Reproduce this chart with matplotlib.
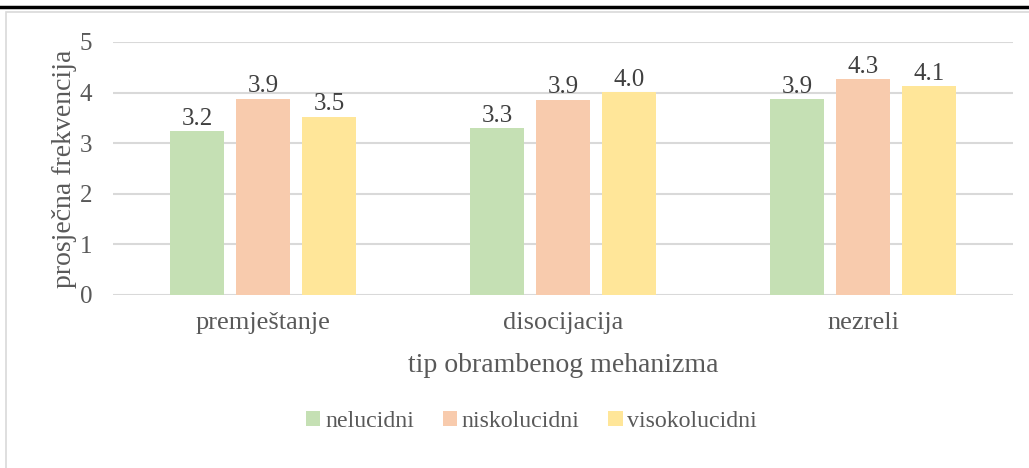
import numpy as np
import matplotlib.pyplot as plt
from matplotlib.lines import Line2D
from matplotlib.patches import Rectangle

# Données du graphique
kategorije = ["premještanje", "disocijacija", "nezreli"]
serije = ["nelucidni", "niskolucidni", "visokolucidni"]
nelucidni = [3.24, 3.30, 3.87]
niskolucidni = [3.88, 3.86, 4.26]
visokolucidni = [3.52, 4.01, 4.13]
boje = ["#C5E0B4", "#F8CBAD", "#FFE699"]

plt.rcParams["font.family"] = ["Liberation Serif", "DejaVu Serif"]
siva = "#595959"

fig = plt.figure(figsize=(10.29, 4.68), dpi=100)
ax = fig.add_axes([0.1098, 0.3697, 0.8747, 0.5406])

x = np.arange(len(kategorije))
sirina = 0.177
korak = 0.22
vrijednosti = [nelucidni, niskolucidni, visokolucidni]
for i, (ime, vals) in enumerate(zip(serije, vrijednosti)):
    bars = ax.bar(x + (i - 1) * korak, vals, sirina, color=boje[i], label=ime, zorder=3)
    ax.bar_label(bars, fmt="%.1f", padding=1, fontsize=18, color="#404040")

ax.set_xlim(-0.5, 2.5)
ax.set_ylim(0, 5)
ax.set_yticks(range(0, 6))
ax.set_xticks(x)
ax.set_xticklabels(kategorije)
ax.tick_params(axis="both", length=0, labelsize=18, colors=siva)
ax.tick_params(axis="x", labelsize=19, pad=12)
ax.tick_params(axis="y", pad=15)
ax.grid(axis="y", color="#D9D9D9", linewidth=1.5, zorder=0)
for s in ax.spines.values():
    s.set_visible(False)

ax.set_ylabel("prosječna frekvencija", fontsize=20, color=siva, labelpad=2)
ax.set_xlabel("tip obrambenog mehanizma", fontsize=20, color=siva, labelpad=14)

ax.legend(loc="center", bbox_to_anchor=(0.465, -0.5), ncol=3, frameon=False,
          fontsize=17.2, labelcolor=siva, handlelength=0.6, handleheight=0.6,
          handletextpad=0.2, columnspacing=1.2)

# Okvir grafikona i crna linija na vrhu
fig.add_artist(Line2D([0, 1], [1 - 7 / 468, 1 - 7 / 468], color="black", linewidth=2.5))
fig.add_artist(Rectangle((6 / 1029, -0.05), 1.1, 1 - 12 / 468 + 0.05, fill=False,
                         edgecolor="#D9D9D9", linewidth=1.2))

fig.savefig("out.png", dpi=100)
